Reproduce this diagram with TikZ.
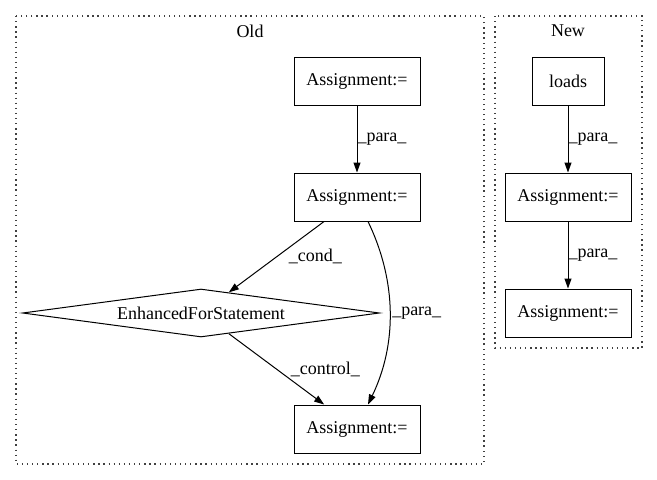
\documentclass[tikz,border=0pt]{standalone}
\usepackage{fontspec}
\setmainfont{Liberation Serif}
\usetikzlibrary{shapes.geometric,arrows.meta}
\begin{document}
\begin{tikzpicture}[x=1pt, y=-1pt, >={Triangle[length=10pt,width=7pt]}, line width=1pt,
        font=\fontsize{18}{21}\selectfont]
        \tikzset{%
         every box/.style={
            rectangle,
            draw,
            minimum width=126pt,
            minimum height=48pt,
            inner sep=0pt},
         every cond/.style={
            diamond,
            draw,
            shape aspect=7.4,
            minimum width=357pt,
            minimum height=48pt,
            inner sep=0pt},
         cluster/.style={
            draw=black!75,
            line width=1.3pt,
            dash pattern=on 1.3pt off 3.8pt},
         edge label/.style={
            anchor=west,
            inner sep=0pt},
        }
        \useasboundingbox (0,0) rectangle (657,480);

        \draw [cluster] (16,16) rectangle (484,464);
        \draw [cluster] (495,16) rectangle (642,348);
        \node (old-title) at (250,31) {Old};
        \node (new-title) at (568,31) {New};

        \foreach \n/\y in {1/81,2/197,3/429}
            \node [every box] (old-\n) at (357,\y) {Assignment:=};
        \node [every cond] (old-for) at (201,313) {EnhancedForStatement};

        \node [every box, minimum width=72pt] (new-loads) at (568,81) {loads};
        \foreach \n/\y in {1/197,2/313}
            \node [every box] (new-\n) at (568,\y) {Assignment:=};

        \draw [->] (old-1) -- node [edge label] {\_para\_} (old-2);
        \draw [->] (old-2) -- node [edge label, xshift=12pt] {\_cond\_} (old-for);
        \draw [->] ([xshift=11pt]old-2.south) .. controls +(29,60) and +(29,-60) ..
            node [edge label, xshift=2pt] {\_para\_} ([xshift=11pt]old-3.north);
        \draw [->] (old-for) -- node [edge label, xshift=14pt] {\_control\_} (old-3);

        \draw [->] (new-loads) -- node [edge label] {\_para\_} (new-1);
        \draw [->] (new-1) -- node [edge label] {\_para\_} (new-2);
    \end{tikzpicture}
\end{document}
